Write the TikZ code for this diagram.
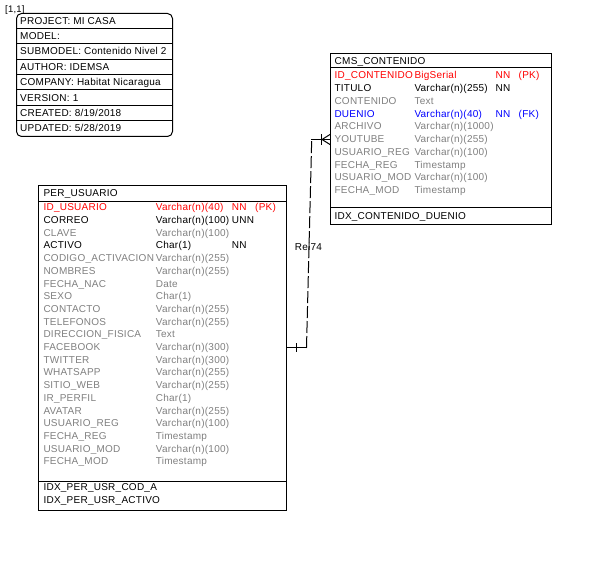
\documentclass[tikz,border=0pt]{standalone}
\usepackage{fontspec}
\setmainfont[LetterSpace=2.5]{Liberation Sans}
\usetikzlibrary{calc}
\definecolor{pkred}{RGB}{255,0,0}
\definecolor{fkblue}{RGB}{0,0,255}
\definecolor{attgray}{RGB}{128,128,128}
\begin{document}
\begin{tikzpicture}[x=1pt,y=-1pt,
  frame/.style={draw=black, line width=1pt, inner sep=0pt, anchor=north west},
  txt/.style={anchor=west, inner sep=0pt, text height=7pt, text depth=0pt, font=\fontsize{10}{12}\selectfont},
  sep/.style={line width=1pt},
  conn/.style={line width=1pt, line cap=rect},
  reldash/.style={dash pattern=on 11pt off 4pt}]
\fill[white] (0,0) rectangle (590,561);
\useasboundingbox (0,0) rectangle (590,561);

% ---- info box
\node[frame, rounded corners=5pt, minimum width=156pt, minimum height=123pt] (info) at (16,13) {};
\foreach \k in {1,...,7} \draw[sep] (16,13+15.375*\k) -- (172,13+15.375*\k);
\node[txt] (i1) at (20,20.7) {PROJECT: MI CASA};
\node[txt] (i2) at (20,36.1) {MODEL:};
\node[txt] (i3) at (20,51.5) {SUBMODEL: Contenido Nivel 2};
\node[txt] (i4) at (20,66.9) {AUTHOR: IDEMSA};
\node[txt] (i5) at (20,82.3) {COMPANY: Habitat Nicaragua};
\node[txt] (i6) at (20,97.7) {VERSION: 1};
\node[txt] (i7) at (20,113.1) {CREATED: 8/19/2018};
\node[txt] (i8) at (20,128.5) {UPDATED: 5/28/2019};
\node[txt, font=\fontsize{9.5}{11}\selectfont] (tag) at (5,9.5) {[1,1]};

% ---- CMS_CONTENIDO
\node[frame, minimum width=220.5pt, minimum height=171pt] (cms) at (330,53) {};
\draw[sep] (330,68) -- (550.5,68);
\draw[sep] (330,208) -- (550.5,208);
\node[txt] (cmsh) at (334.5,61) {CMS\_CONTENIDO};
\foreach \i/\n/\t/\k/\p/\s in {
  0/ID\_CONTENIDO/BigSerial/NN/(PK)/pkred,
  1/TITULO/Varchar(n)(255)/NN//black,
  2/CONTENIDO/Text///attgray,
  3/DUENIO/Varchar(n)(40)/NN/(FK)/fkblue,
  4/ARCHIVO/Varchar(n)(1000)///attgray,
  5/YOUTUBE/Varchar(n)(255)///attgray,
  6/USUARIO\_REG/Varchar(n)(100)///attgray,
  7/FECHA\_REG/Timestamp///attgray,
  8/USUARIO\_MOD/Varchar(n)(100)///attgray,
  9/FECHA\_MOD/Timestamp///attgray}{
  \node[txt, text=\s] (cn\i) at (334.3,75.5+12.75*\i) {\n};
  \node[txt, text=\s] (ct\i) at (414.3,75.5+12.75*\i) {\t};
  \node[txt, text=\s] (ck\i) at (495.5,75.5+12.75*\i) {\k};
  \node[txt, text=\s] (cp\i) at (518.5,75.5+12.75*\i) {\p};
}
\node[txt] (cx) at (334.3,216.5) {IDX\_CONTENIDO\_DUENIO};

% ---- PER_USUARIO
\node[frame, minimum width=247.5pt, minimum height=325pt] (per) at (38,185) {};
\draw[sep] (38,201.5) -- (285.5,201.5);
\draw[sep] (38,481.5) -- (285.5,481.5);
\node[txt] (perh) at (43.3,193) {PER\_USUARIO};
\foreach \i/\n/\t/\k/\p/\s in {
  0/ID\_USUARIO/Varchar(n)(40)/NN/(PK)/pkred,
  1/CORREO/Varchar(n)(100)/UNN//black,
  2/CLAVE/Varchar(n)(100)///attgray,
  3/ACTIVO/Char(1)/NN//black,
  4/CODIGO\_ACTIVACION/Varchar(n)(255)///attgray,
  5/NOMBRES/Varchar(n)(255)///attgray,
  6/FECHA\_NAC/Date///attgray,
  7/SEXO/Char(1)///attgray,
  8/CONTACTO/Varchar(n)(255)///attgray,
  9/TELEFONOS/Varchar(n)(255)///attgray,
  10/DIRECCION\_FISICA/Text///attgray,
  11/FACEBOOK/Varchar(n)(300)///attgray,
  12/TWITTER/Varchar(n)(300)///attgray,
  13/WHATSAPP/Varchar(n)(255)///attgray,
  14/SITIO\_WEB/Varchar(n)(255)///attgray,
  15/IR\_PERFIL/Char(1)///attgray,
  16/AVATAR/Varchar(n)(255)///attgray,
  17/USUARIO\_REG/Varchar(n)(100)///attgray,
  18/FECHA\_REG/Timestamp///attgray,
  19/USUARIO\_MOD/Varchar(n)(100)///attgray,
  20/FECHA\_MOD/Timestamp///attgray}{
  \node[txt, text=\s] (pn\i) at (43.3,207.4+12.7*\i) {\n};
  \node[txt, text=\s] (pt\i) at (155.7,207.4+12.7*\i) {\t};
  \node[txt, text=\s] (pk\i) at (231.7,207.4+12.7*\i) {\k};
  \node[txt, text=\s] (pp\i) at (255,207.4+12.7*\i) {\p};
}
\node[txt] (px1) at (43.3,487.5) {IDX\_PER\_USR\_COD\_A};
\node[txt] (px2) at (43.3,500.2) {IDX\_PER\_USR\_ACTIVO};

% ---- relationship Rel74
\node[txt, anchor=center] (rel) at (308.5,247.5) {Rel74};
\coordinate (pa) at ($(per.north east)+(0,162.5)$);
\coordinate (pb) at ($(pa)+(20,0)$);
\coordinate (ca) at ($(cms.north west)+(0,86.5)$);
\coordinate (pc) at ($(ca)+(-18.3,0)$);
\draw[conn] (pa) -- (pb);
\draw[conn, reldash] (pb) -- (pc);
\draw[conn] (pc) -- (ca);
\draw[conn] ($(pa)+(10,-4)$) -- ($(pa)+(10,4)$);
\draw[conn] ($(ca)+(-9,-5)$) -- ($(ca)+(-9,5)$);
\draw[conn] ($(ca)+(0,-5)$) -- ($(ca)+(-8,0)$) -- ($(ca)+(0,5)$);
\end{tikzpicture}
\end{document}
